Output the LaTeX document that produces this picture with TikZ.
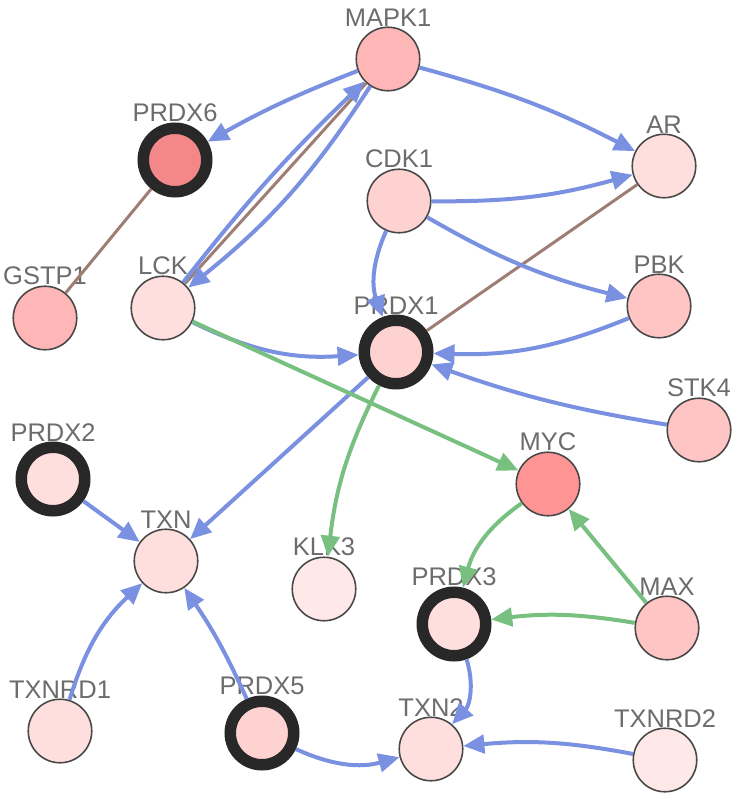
\documentclass[tikz,border=0pt]{standalone}
\usepackage{fontspec}
\setmainfont{Liberation Sans}
\usetikzlibrary{arrows.meta, positioning, calc}
\definecolor{actblue}{RGB}{122, 145, 226}
\definecolor{exprgreen}{RGB}{120, 192, 128}
\definecolor{bindbrown}{RGB}{158, 126, 116}
\definecolor{labelgray}{RGB}{108, 108, 108}
\definecolor{ringdark}{RGB}{40, 40, 40}
\definecolor{pinkA}{RGB}{255, 232, 232}
\definecolor{pinkB}{RGB}{255, 222, 222}
\definecolor{pinkC}{RGB}{255, 210, 210}
\definecolor{pinkD}{RGB}{255, 196, 196}
\definecolor{pinkE}{RGB}{255, 182, 182}
\definecolor{pinkF}{RGB}{255, 148, 148}
\definecolor{pinkG}{RGB}{244, 136, 136}

\begin{document}
\begin{tikzpicture}[
    gene/.style={circle, draw=ringdark!85, line width=0.9pt, fill=#1,
      minimum size=1.27cm, inner sep=0pt, label distance=0.18cm},
    hub/.style={gene=#1, draw=ringdark, line width=0.23cm},
    every label/.style={font=\fontsize{14.5}{16}\selectfont, text=labelgray, inner sep=0pt},
    act/.style={-{Triangle[length=0.42cm, width=0.37cm]}, line width=0.08cm, actblue},
    expr/.style={-{Triangle[length=0.42cm, width=0.37cm]}, line width=0.08cm, exprgreen},
    bind/.style={line width=0.06cm, bindbrown}
  ]
  \useasboundingbox (0, 0) rectangle (14.70, -15.94);

  % Upper part
  \node[gene=pinkE, label=above:MAPK1] (mapk1) at (7.76, -1.18) {};
  \node[hub=pinkG, label=above:PRDX6] (prdx6) at (3.50, -3.20) {};
  \node[gene=pinkB, label=above:AR] (ar) at (13.28, -3.32) {};
  \node[gene=pinkC, label=above:CDK1] (cdk1) at (7.98, -4.02) {};
  \node[gene=pinkE, label=above:GSTP1] (gstp1) at (0.90, -6.36) {};
  \node[gene=pinkB, label=above:LCK] (lck) at (3.26, -6.16) {};
  \node[gene=pinkD, label=above:PBK] (pbk) at (13.18, -6.12) {};
  \node[hub=pinkC, label=above:PRDX1] (prdx1) at (7.92, -7.04) {};
  \node[gene=pinkD, label=above:STK4] (stk4) at (13.98, -8.60) {};

  % Lower part
  \node[hub=pinkB, label=above:PRDX2] (prdx2) at (1.06, -9.58) {};
  \node[gene=pinkF, label=above:MYC] (myc) at (10.96, -9.68) {};
  \node[gene=pinkB, label=above:TXN] (txn) at (3.32, -11.22) {};
  \node[gene=pinkA, label=above:KLK3] (klk3) at (6.48, -11.78) {};
  \node[hub=pinkB, label=above:PRDX3] (prdx3) at (9.08, -12.48) {};
  \node[gene=pinkD, label=above:MAX] (max) at (13.34, -12.56) {};
  \node[gene=pinkB, label=above:TXNRD1] (txnrd1) at (1.20, -14.62) {};
  \node[hub=pinkC, label=above:PRDX5] (prdx5) at (5.24, -14.66) {};
  \node[gene=pinkB, label=above:TXN2] (txn2) at (8.62, -14.98) {};
  \node[gene=pinkA, label=above:TXNRD2] (txnrd2) at (13.30, -15.20) {};

  % Binding links
  \draw[bind] (prdx6) -- (gstp1);
  \draw[bind] (mapk1) -- (lck);
  \draw[bind] (ar) -- (prdx1);

  % Activation links
  \draw[act] (mapk1) to[bend right=4] (prdx6);
  \draw[act] (mapk1) to[bend left=6] (ar);
  \draw[act] (lck) to[bend left=4] (mapk1);
  \draw[act] (mapk1) to[bend left=9] (lck);
  \draw[act] (cdk1) to[bend right=8] (ar);
  \draw[act] (cdk1) to[bend right=8] (pbk);
  \draw[act] (cdk1) to[bend right=22] (prdx1);
  \draw[act] (pbk) to[bend left=12] (prdx1);
  \draw[act] (stk4) to[bend left=5] (prdx1);
  \draw[act] (lck) to[bend right=15] (prdx1);
  \draw[act] (prdx1) -- (txn);
  \draw[act] (prdx2) -- (txn);
  \draw[act] (txnrd1) to[bend left=15] (txn);
  \draw[act] (prdx5) to[bend right=5] (txn);
  \draw[act] (prdx5) to[bend right=20] (txn2);
  \draw[act] (prdx3) to[bend left=30] (txn2);
  \draw[act] (txnrd2) to[bend right=8] (txn2);

  % Expression links
  \draw[expr] (lck) -- (myc);
  \draw[expr] (prdx1) to[bend right=10] (klk3);
  \draw[expr] (myc) to[bend right=20] (prdx3);
  \draw[expr] (max) -- (myc);
  \draw[expr] (max) to[bend right=8] (prdx3);
\end{tikzpicture}
\end{document}
